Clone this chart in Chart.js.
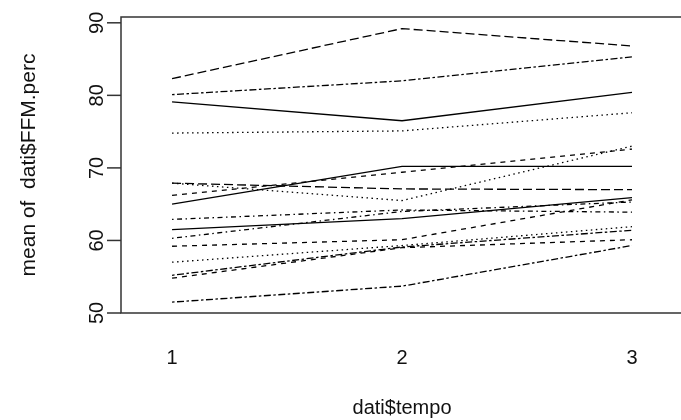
<!DOCTYPE html>
<html lang="en">
<head>
    <meta charset="UTF-8">
    <title>Interaction plot</title>
    <script src="https://cdnjs.cloudflare.com/ajax/libs/Chart.js/4.4.1/chart.umd.min.js"></script>
    <style>
        html, body {
            margin: 0;
            padding: 0;
            background: #fff;
        }
        .chart-container {
            width: 681px;
            height: 420px;
        }
    </style>
</head>
<body>
    <div class="chart-container">
        <canvas id="chart"></canvas>
    </div>

    <script>
        // levels of dati$tempo and y axis ticks
        const tempo = [1, 2, 3];
        const yTicks = [50, 60, 70, 80, 90];

        // mean of dati$FFM.perc per subject, at tempo 1, 2, 3
        const s01 = [82.3, 89.2, 86.8];
        const s02 = [80.1, 82.0, 85.3];
        const s03 = [79.1, 76.5, 80.4];
        const s04 = [74.8, 75.1, 77.6];
        const s05 = [67.9, 67.1, 67.0];
        const s06 = [67.9, 65.5, 73.0];
        const s07 = [66.2, 69.4, 72.6];
        const s08 = [65.0, 70.2, 70.2];
        const s09 = [62.9, 64.2, 63.9];
        const s10 = [61.5, 63.0, 65.9];
        const s11 = [60.3, 64.0, 65.3];
        const s12 = [59.2, 60.1, 65.6];
        const s13 = [57.0, 59.3, 61.9];
        const s14 = [55.2, 59.1, 61.4];
        const s15 = [54.8, 59.0, 60.1];
        const s16 = [51.5, 53.7, 59.3];

        const series = [s01, s02, s03, s04, s05, s06, s07, s08,
                        s09, s10, s11, s12, s13, s14, s15, s16];

        // R line types: solid, dashed, dotted, dotdash, longdash, twodash
        const lty = {
            solid: [], dashed: [5, 5], dotted: [1.5, 3.5],
            dotdash: [1.5, 3.5, 5, 3.5], longdash: [9, 4], twodash: [2.5, 2.5, 7, 2.5]
        };
        const styles = ['longdash', 'twodash', 'solid', 'dotted', 'longdash', 'dotted',
                        'dashed', 'solid', 'dotdash', 'solid', 'dotdash', 'dashed',
                        'dotted', 'twodash', 'dashed', 'twodash'];

        const font = '20px "Liberation Sans", Arial, sans-serif';

        // axes, box and labels drawn like base R graphics
        const rAxes = {
            id: 'rAxes',
            afterDraw(chart) {
                const ctx = chart.ctx;
                const a = chart.chartArea;
                const xs = chart.scales.x, ys = chart.scales.y;
                ctx.save();
                ctx.strokeStyle = '#333';
                ctx.lineWidth = 1.5;
                ctx.beginPath();
                ctx.moveTo(chart.width, a.top);
                ctx.lineTo(a.left, a.top);
                ctx.lineTo(a.left, a.bottom);
                ctx.lineTo(chart.width, a.bottom);
                ctx.stroke();

                ctx.fillStyle = '#111';
                ctx.font = font;
                ctx.textAlign = 'center';
                ctx.textBaseline = 'middle';

                yTicks.forEach(v => {
                    const py = ys.getPixelForValue(v);
                    ctx.beginPath();
                    ctx.moveTo(a.left - 14, py);
                    ctx.lineTo(a.left, py);
                    ctx.stroke();
                    ctx.save();
                    ctx.translate(97, py);
                    ctx.rotate(-Math.PI / 2);
                    ctx.fillText(String(v), 0, 0);
                    ctx.restore();
                });

                tempo.forEach(v => {
                    ctx.fillText(String(v), xs.getPixelForValue(v), 358);
                });

                ctx.fillText('dati$tempo', xs.getPixelForValue(2), 408);

                ctx.save();
                ctx.translate(29, (a.top + a.bottom) / 2);
                ctx.rotate(-Math.PI / 2);
                ctx.font = '21px "Liberation Sans", Arial, sans-serif';
                ctx.fillText('mean of  dati$FFM.perc', 0, 0);
                ctx.restore();
                ctx.restore();
            }
        };

        new Chart(document.getElementById('chart'), {
            type: 'line',
            data: {
                datasets: series.map((s, i) => ({
                    label: String(i + 1),
                    data: s.map((v, j) => ({ x: tempo[j], y: v })),
                    borderColor: '#000',
                    borderWidth: 1.3,
                    borderDash: lty[styles[i]],
                    pointRadius: 0,
                    tension: 0
                }))
            },
            options: {
                responsive: true,
                maintainAspectRatio: false,
                animation: false,
                layout: {
                    padding: { left: 121, top: 17, bottom: 107, right: 0 }
                },
                scales: {
                    x: { type: 'linear', min: 0.778, max: 3.213, display: false },
                    y: { type: 'linear', min: 50, max: 90.8, display: false }
                },
                plugins: {
                    legend: { display: false },
                    tooltip: { enabled: false }
                }
            },
            plugins: [rAxes]
        });
    </script>
</body>
</html>
